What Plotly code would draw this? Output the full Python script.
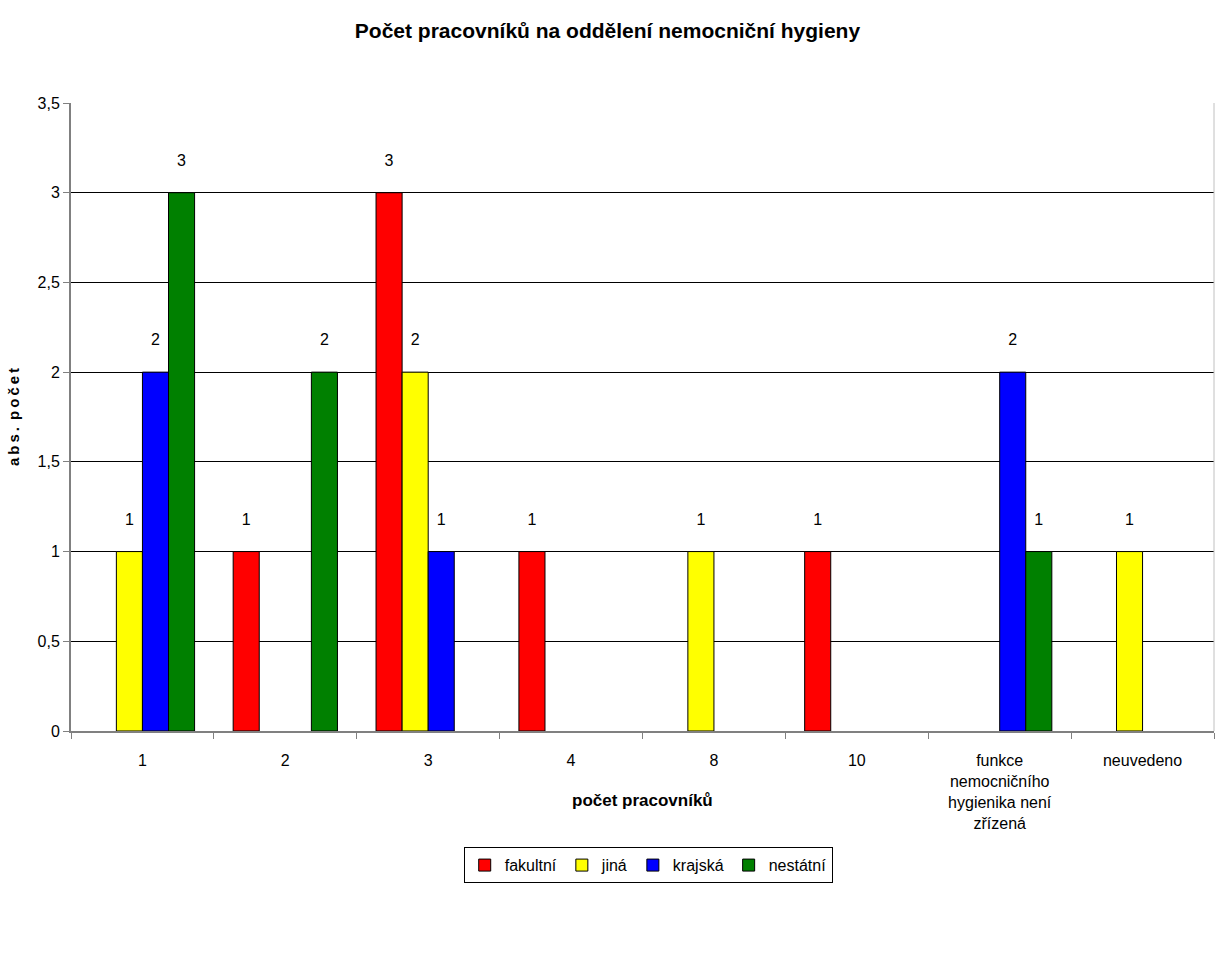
import plotly.graph_objects as go

categories = ["1", "2", "3", "4", "8", "10",
              "funkce<br>nemocničního<br>hygienika není<br>zřízená", "neuvedeno"]
fakultni = [None, 1, 3, 1, None, 1, None, None]
jina = [1, None, 2, None, 1, None, None, 1]
krajska = [2, None, 1, None, None, None, 2, None]
nestatni = [3, 2, None, None, None, None, 1, None]

series = [
    ("fakultní", fakultni, "#FF0000"),
    ("jiná", jina, "#FFFF00"),
    ("krajská", krajska, "#0000FF"),
    ("nestátní", nestatni, "#008000"),
]

FONT = "Liberation Sans Narrow, Arial Narrow, Liberation Sans, Arial, sans-serif"

fig = go.Figure()
for name, vals, color in series:
    fig.add_trace(go.Bar(
        name=name,
        x=categories,
        y=vals,
        marker=dict(color=color, line=dict(color="#000000", width=1)),
        # blank second line lifts the value label a little above the bar
        text=[("" if v is None else f"{v}<br> ") for v in vals],
        textposition="outside",
        textfont=dict(family=FONT, size=16, color="#000000"),
        cliponaxis=False,
    ))

fig.update_layout(
    width=1215, height=959,
    margin=dict(l=71, r=1, t=103, b=228),
    paper_bgcolor="white", plot_bgcolor="white",
    barmode="group", bargap=0.27, bargroupgap=0,
    separators=", ",
    font=dict(family=FONT, size=16, color="#000000"),
    title=dict(text="<b>Počet pracovníků na oddělení nemocniční hygieny</b>",
               x=0.5, xanchor="center", y=0.968, yanchor="middle",
               font=dict(family=FONT, size=21)),
    showlegend=True,
    legend=dict(orientation="h", x=0.505, xanchor="center", y=-0.185, yanchor="top",
                bordercolor="#000000", borderwidth=1,
                font=dict(family=FONT, size=16), itemwidth=30,
                traceorder="normal"),
)

fig.update_xaxes(
    type="category",
    showline=True, linecolor="#808080", linewidth=2,
    ticks="outside", tickson="boundaries", ticklen=6, tickcolor="#808080",
    tickfont=dict(family=FONT, size=16),
    ticklabelstandoff=14,
    showgrid=False,
)
fig.update_yaxes(
    range=[0, 3.5],
    tickvals=[0, 0.5, 1, 1.5, 2, 2.5, 3, 3.5],
    showline=True, linecolor="#808080", linewidth=2,
    ticks="outside", ticklen=6, tickcolor="#808080",
    tickfont=dict(family=FONT, size=16),
    showgrid=True, gridcolor="#000000", gridwidth=1,
    zeroline=False,
    title=dict(text="<b>a\u2009b\u2009s\u2009.\u2009 p\u2009o\u2009č\u2009e\u2009t</b>",
               font=dict(family=FONT, size=15), standoff=14),
)

# x-axis title placed between the tick labels and the legend
fig.add_annotation(text="<b>počet pracovníků</b>", xref="paper", yref="paper",
                   x=0.5, y=-0.11, xanchor="center", yanchor="middle",
                   showarrow=False, font=dict(family=FONT, size=17))

# light frame line on the right side of the plot area
fig.add_shape(type="line", xref="paper", yref="paper", x0=1, x1=1, y0=0, y1=1,
              line=dict(color="#C0C0C0", width=1))

fig.write_html("out.html")
